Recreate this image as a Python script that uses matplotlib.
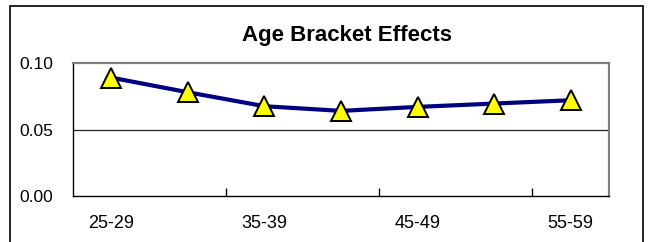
import matplotlib
matplotlib.use("Agg")
import matplotlib.pyplot as plt
from matplotlib.patches import Rectangle
import numpy as np

plt.rcParams['font.family'] = ['Liberation Sans', 'DejaVu Sans']

# data
age_groups = ['25-29', '30-34', '35-39', '40-44', '45-49', '50-54', '55-59']
effects = [0.089, 0.078, 0.0675, 0.064, 0.067, 0.0695, 0.072]
y_ticks = [0.00, 0.05, 0.10]

W, H = 651, 242
fig = plt.figure(figsize=(W / 100, H / 100), dpi=100)

# outer chart frame (bottom edge is cut off in the reference)
fig.patches.append(Rectangle((10 / W, -0.05), 633 / W, 1.05 - 6 / H,
                             transform=fig.transFigure, fill=False,
                             edgecolor='black', linewidth=1.2))

ax = fig.add_axes([73 / W, 1 - 196 / H, 536 / W, 133 / H])

x = np.arange(len(age_groups))
ax.axhline(0.05, color='#202020', linewidth=0.9, zorder=1)
ax.plot(x, effects, color='#000080', linewidth=3, zorder=2,
        marker='^', markersize=14, markerfacecolor='#FFFF00',
        markeredgecolor='black', markeredgewidth=1.4)

ax.set_xlim(-0.5, len(age_groups) - 0.5)
ax.set_ylim(0, 0.10)

# labels for every other category, tick marks on category boundaries
ax.set_xticks(x)
ax.set_xticklabels([g if i % 2 == 0 else '' for i, g in enumerate(age_groups)])
ax.set_xticks([1.5, 3.5, 5.5], minor=True)
ax.tick_params(axis='x', which='major', length=0, pad=14, labelsize=13)
ax.tick_params(axis='x', which='minor', direction='in', length=6,
               width=1, color='black')

ax.set_yticks(y_ticks)
ax.set_yticklabels(['%.2f' % v for v in y_ticks])
ax.tick_params(axis='y', length=0, pad=14, labelsize=12.5)

for s in ['top', 'right']:
    ax.spines[s].set_color('#808080')
    ax.spines[s].set_linewidth(1.6)
for s in ['left', 'bottom']:
    ax.spines[s].set_color('black')
    ax.spines[s].set_linewidth(1.0)

fig.text(347 / W, 1 - 36 / H, 'Age Bracket Effects', ha='center',
         va='center', fontsize=16, fontweight='bold')

fig.savefig('out.png', dpi=100)
